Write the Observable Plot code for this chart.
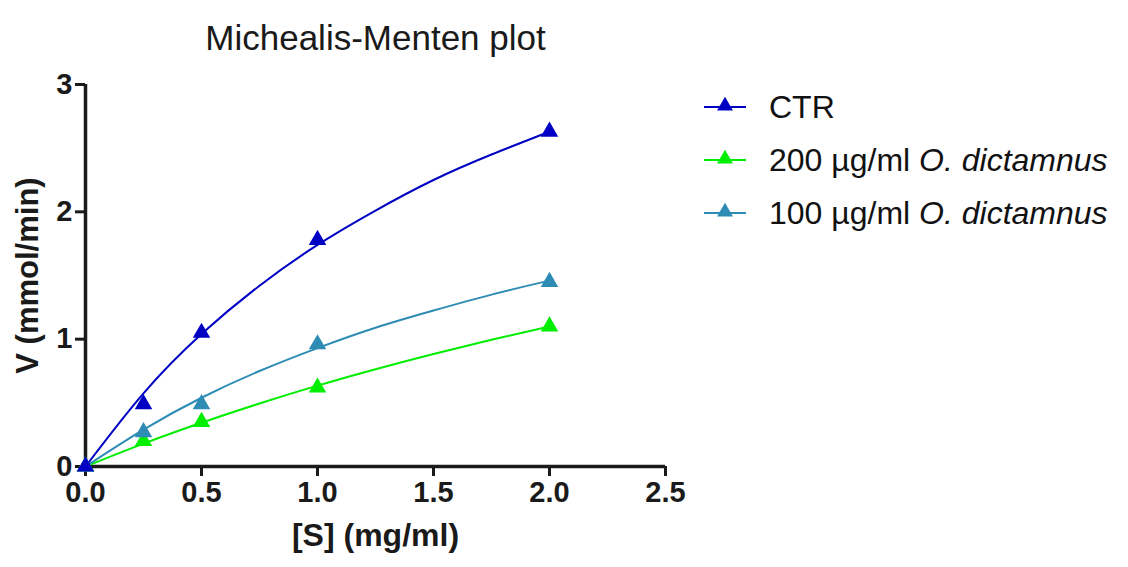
<!DOCTYPE html>
<html>
<head>
<meta charset="utf-8">
<script src="https://cdn.jsdelivr.net/npm/d3@7"></script>
<script src="https://cdn.jsdelivr.net/npm/@observablehq/plot@0.6"></script>
<style>
  html, body { margin: 0; padding: 0; background: #fff; }
  #chart { width: 1128px; height: 567px; }
  svg { font-family: "Liberation Sans", Arial, sans-serif; }
</style>
</head>
<body>
<div id="chart"></div>
<script>
// ---- data ----
const seriesNames = ["CTR", "200 µg/ml O. dictamnus", "100 µg/ml O. dictamnus"];
const seriesColors = ["#0000c4", "#00ee00", "#2e8cb4"];

// measured points: substrate [S] (mg/ml)
const substrate = [0, 0.25, 0.5, 1, 2];
const vCTR  = [0, 0.49, 1.05, 1.78, 2.63];
const v200  = [0, 0.20, 0.35, 0.62, 1.10];
const v100  = [0, 0.27, 0.49, 0.96, 1.45];

// fitted curves
const curveS    = [0, 0.25, 0.5, 0.75, 1, 1.25, 1.5, 1.75, 2];
const fitCTR    = [0, 0.575, 1.04, 1.42, 1.74, 2.01, 2.25, 2.45, 2.63];
const fit200    = [0, 0.18, 0.344, 0.495, 0.635, 0.764, 0.884, 0.995, 1.10];
const fit100    = [0, 0.29, 0.54, 0.75, 0.93, 1.09, 1.225, 1.35, 1.46];

const xTicks = [0, 0.5, 1, 1.5, 2, 2.5];
const yTicks = [0, 1, 2, 3];

const title = "Michealis-Menten plot";
const xLabel = "[S] (mg/ml)";
const yLabel = "V (mmol/min)";

// ---- build tables ----
const pointVals = [vCTR, v200, v100];
const fitVals = [fitCTR, fit200, fit100];
const points = [];
const fits = [];
seriesNames.forEach((name, i) => {
  substrate.forEach((s, j) => points.push({series: name, s, v: pointVals[i][j]}));
  curveS.forEach((s, j) => fits.push({series: name, s, v: fitVals[i][j]}));
});
// draw order: 200 first, then 100, then CTR on top
const order = [1, 2, 0];

const marks = [];
order.forEach(i => {
  const name = seriesNames[i];
  marks.push(Plot.line(fits.filter(d => d.series === name), {
    x: "s", y: "v", stroke: seriesColors[i], strokeWidth: 2, curve: "natural"
  }));
});
order.forEach(i => {
  const name = seriesNames[i];
  marks.push(Plot.dot(points.filter(d => d.series === name), {
    x: "s", y: "v", fill: seriesColors[i], symbol: "triangle", r: 6.5, stroke: "none"
  }));
});

const plot = Plot.plot({
  width: 1128,
  height: 567,
  marginLeft: 85,
  marginRight: 463,
  marginTop: 84,
  marginBottom: 101,
  style: {fontFamily: "'Liberation Sans', Arial, sans-serif", background: "#fff", overflow: "visible"},
  x: {domain: [0, 2.5]},
  y: {domain: [0, 3]},
  marks: [
    Plot.axisX({ticks: xTicks, tickFormat: d3.format(".1f"), tickSize: 10, strokeWidth: 3,
      fontSize: 29, fontWeight: "bold", tickPadding: 5, label: null, fill: "#1a1a1a", stroke: "#1a1a1a"}),
    Plot.axisY({ticks: yTicks, tickFormat: d3.format("d"), tickSize: 10, strokeWidth: 3,
      fontSize: 29, fontWeight: "bold", tickPadding: 3, label: null, fill: "#1a1a1a", stroke: "#1a1a1a"}),
    Plot.ruleY([0], {stroke: "#1a1a1a", strokeWidth: 3.5}),
    Plot.ruleX([0], {stroke: "#1a1a1a", strokeWidth: 3.5}),
    ...marks,
    Plot.text([title], {frameAnchor: "top", dy: -59, fontSize: 35, fill: "#1a1a1a"}),
    Plot.text([xLabel], {frameAnchor: "bottom", dy: 79, fontSize: 32, fontWeight: "bold", fill: "#1a1a1a"}),
    Plot.text([yLabel], {frameAnchor: "left", textAnchor: "middle", dx: -57, rotate: -90, fontSize: 31, fontWeight: "bold", fill: "#1a1a1a"})
  ]
});

// ---- legend (inside the same svg) ----
const svg = d3.select(plot);
const legendY = [107, 160, 213];
const lg = svg.append("g").attr("class", "legend").attr("text-anchor", "start");
seriesNames.forEach((name, i) => {
  const g = lg.append("g").attr("transform", `translate(0,${legendY[i]})`);
  g.append("line").attr("x1", 704).attr("x2", 746).attr("y1", 0).attr("y2", 0)
    .attr("stroke", seriesColors[i]).attr("stroke-width", 2);
  g.append("path").attr("d", d3.symbol(d3.symbolTriangle, 110)())
    .attr("transform", "translate(725,-1)").attr("fill", seriesColors[i]);
  const t = g.append("text").attr("x", 769).attr("dy", "0.35em")
    .attr("text-anchor", "start")
    .attr("font-size", 32).attr("fill", "#111");
  const m = name.match(/^(.*?)(O\. dictamnus)$/);
  if (m) {
    t.append("tspan").text(m[1]);
    t.append("tspan").attr("font-style", "italic").text(m[2]);
  } else {
    t.text(name);
  }
});

document.getElementById("chart").appendChild(plot);
</script>
</body>
</html>
